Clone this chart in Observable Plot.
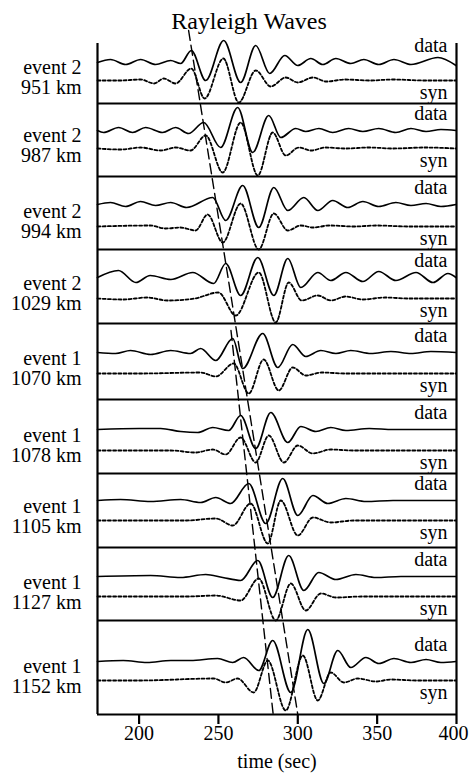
<!DOCTYPE html>
<html><head><meta charset="utf-8">
<script src="https://cdn.jsdelivr.net/npm/d3@7"></script>
<script src="https://cdn.jsdelivr.net/npm/@observablehq/plot@0.6"></script>
<style>
body{margin:0;background:#fff}
svg, svg text, svg g { font-family: "Liberation Serif", "Times New Roman", "DejaVu Serif", serif !important; }
</style>
</head><body><div id="chart"></div>
<script>
const title = "Rayleigh Waves";
const xLabel = "time (sec)";
const events = ["event 2","event 2","event 2","event 2","event 1","event 1","event 1","event 1","event 1"];
const distances = [951, 987, 994, 1029, 1070, 1078, 1105, 1127, 1152];
const xTicks = [200, 250, 300, 350, 400];

// [time (s), amplitude] picks, one list per trace
const dataTraces = [
 [[173.8,0],[182,3],[191.5,-2],[201,3],[210.4,-2],[219.9,2],[226.2,-1],[232.9,12],[242,-18],[253.3,22],[264,-20],[273.5,17],[282.3,-11],[291.8,7],[300,-3],[308.2,4],[315.8,-2],[324,4],[333.4,-1],[341.6,3],[351,-2],[360.6,3],[371.3,-2],[388.3,5],[399.7,-3]],
 [[173.8,0],[177.6,-2],[187.1,3],[195.9,-2],[204.1,3],[214.8,-2],[223,3],[231.2,-3],[240.7,8],[251.4,-17],[262.1,23],[271.6,-22],[281.7,15],[289.3,-7],[298.7,2],[305,-1],[313.3,2],[322,-2],[332,2],[341,-1],[351,2],[361.8,-2],[371.3,2],[380.8,-1],[390.2,1],[399.7,0]],
 [[173.8,0],[182,2],[191.5,-2],[200.9,3],[210.4,-1],[219.9,2],[230,-3],[246.4,7],[254.6,-16],[265.3,19],[275.4,-23],[284.9,17],[293.7,-6],[303.8,7],[312.6,-6],[322,4],[331.5,-3],[341,3],[351,-2],[361.8,2],[371.3,-1],[380.8,1],[390.2,-2],[399.7,0]],
 [[173.8,0],[187,7],[198,-5],[207,2],[220,-2],[233.8,5],[247,-6],[254.6,14],[264,-18],[274.8,20],[284.9,-18],[293.7,19],[301.9,-10],[312.6,5],[320.8,-3],[330.3,5],[341,-4],[351,6],[361.8,-3],[374.5,5],[385.2,-5],[394.6,4],[399.7,0]],
 [[173.8,0],[185.2,-1],[194.6,2],[207.3,-2],[219.9,2],[232.4,-1],[238.8,4],[248.3,-8],[259,14],[265.3,-16],[277.9,19],[287.4,-15],[296.8,8],[305,-4],[314.5,2],[324,-1],[333.4,2],[346.1,-1],[358.7,1],[371.3,-1],[383.9,1],[399.7,0]],
 [[173.8,0],[200,1],[213.6,1],[226.2,-2],[236.9,-3],[246.4,2],[256.5,-1],[264,14],[273.5,-19],[283,17],[293.7,-13],[301.9,3],[311.4,-2],[320.8,2],[330.3,-1],[345,1],[360,0],[399.7,0]],
 [[173.8,0],[188.3,1],[207.3,-1],[226.2,1],[238.8,-2],[248.3,3],[257.7,-3],[269.1,17],[279.8,-23],[290.5,22],[300,-15],[309.5,5],[318.9,-3],[330.3,2],[342.9,-1],[360,0],[399.7,0]],
 [[173.8,0],[207.3,1],[226.2,-1],[242,2],[252.7,-1],[264,-4],[274.8,16],[284.2,-21],[294.3,21],[303.8,-14],[313.2,4],[324,-3],[336.6,2],[349.2,-1],[365,0],[399.7,0]],
 [[173.8,0],[190,1],[205,-1],[220,1],[232.4,1],[249.5,3],[259,-1],[265.9,4],[275.4,-9],[284.2,21],[295.6,-31],[306.3,32],[316.4,-22],[325.2,11],[333.4,-6],[342.9,4],[351.1,-2],[360.6,3],[371.3,-1],[380.8,2],[390.2,-1],[399.7,0]]
];
const synTraces = [
 [[173.8,0],[188,0],[200.9,1],[209.5,-3],[215.5,2],[223,-3],[232.9,12],[241.3,-18],[253.1,22],[262.8,-22],[273.5,10],[283,-6],[292.4,3],[300,-2],[309.5,3],[318,-1],[330,1],[345,0],[360,1],[380,0],[399.7,0]],
 [[173.8,0],[188.3,-1],[200.9,1],[213.6,-2],[223,1],[232.4,-2],[242,13],[252.7,-24],[264,26],[274.8,-27],[284.2,16],[292.4,-7],[300.6,1],[308.2,-2],[317.7,1],[330,0],[345,1],[360,0],[380,1],[399.7,0]],
 [[173.8,0],[207,1],[216.7,-2],[226,-1],[235.6,-4],[243.2,12],[252.7,-16],[264,23],[275.4,-23],[284.9,13],[293.7,-4],[301.9,1],[309.5,-1],[320,1],[335,0],[350,1],[370,0],[399.7,0]],
 [[173.8,0],[190,-1],[205,1],[218,-2],[235,0],[250,6],[260.9,-17],[275.4,26],[286.1,-24],[294.3,16],[302.5,-2],[312.6,3],[320.8,-2],[330.3,2],[341,-1],[355,1],[370,0],[399.7,0]],
 [[173.8,0],[200,0],[238.8,1],[248.3,-3],[259.6,10],[269.1,-20],[278.5,14],[288,-17],[296.8,6],[305,-2],[315,1],[330,0],[399.7,0]],
 [[173.8,0],[220,0],[235.6,-2],[246.4,1],[254.6,-4],[264,13],[273.5,-12],[281.7,15],[291.2,-12],[300,5],[309.5,-3],[320.8,1],[335,0],[399.7,0]],
 [[173.8,0],[230,0],[248.3,2],[259,-5],[270.3,17],[281.1,-23],[289.3,20],[300,-15],[309.5,3],[320.8,-2],[335,0],[399.7,0]],
 [[173.8,0],[230,0],[248.3,1],[264,-4],[275.4,18],[286.1,-24],[295.6,13],[305,-14],[314.5,3],[324,-1],[340,0],[399.7,0]],
 [[173.8,0],[200,0],[247,2],[254.6,-2],[262.1,2],[272.2,-12],[281.1,20],[292.4,-30],[303.2,25],[312.6,-20],[320.8,8],[329,-2],[337.9,2],[349.2,-1],[358.7,1],[375,0],[399.7,0]]
];
// dashed moveout lines: time where each line starts and ends
const phaseStart = [231.2, 257.9];
const phaseEnd = [300.0, 284.5];

// ---- layout (vertical track positions, px units of the y scale) ----
const L = {
  top: 43, bottom: 714,
  panelBottoms: [103,176,249,323,399,473,547,620,714],
  dataBase: [62,130,204,277,352,429,500,576,661],
  synBase: [80,148,226,298,373,450,520,596,680],
  phaseTop: [30, 330]
};
const xDomain = [173.8, 400];

const rows = (traces, base, kind) => traces.flatMap((tr, i) =>
  tr.map(([t, a]) => ({t, y: base[i] - a, panel: i, kind})));
const dataRows = rows(dataTraces, L.dataBase, "data");
const synRows = rows(synTraces, L.synBase, "syn");
const phaseRows = phaseStart.flatMap((t0, k) => [
  {t: t0, y: L.phaseTop[k], k}, {t: phaseEnd[k], y: L.bottom, k}]);

const panels = distances.map((d, i) => ({
  i, label: `${events[i]}\n${d} km`,
  mid: (L.dataBase[i] + L.synBase[i]) / 2 + 6,
  dataY: L.dataBase[i] - 17, synY: L.synBase[i] + 12
}));

const font = "Liberation Serif, DejaVu Serif, serif";
const last = xTicks[xTicks.length - 1];
const chart = Plot.plot({
  width: 469, height: 773,
  marginLeft: 97, marginRight: 13, marginTop: 43, marginBottom: 59,
  style: {fontFamily: font, fontSize: "20px", background: "white", color: "black", overflow: "visible"},
  x: {domain: xDomain},
  y: {domain: [L.top, L.bottom], range: [L.top, L.bottom], axis: null},
  marks: [
    Plot.line(phaseRows, {x: "t", y: "y", z: "k", stroke: "black", strokeWidth: 1.4, strokeDasharray: "10,5"}),
    Plot.line(synRows, {x: "t", y: "y", z: "panel", curve: "monotone-x", stroke: "black", strokeWidth: 1.8, strokeDasharray: "3,2.2"}),
    Plot.line(dataRows, {x: "t", y: "y", z: "panel", curve: "monotone-x", stroke: "black", strokeWidth: 1.7}),
    Plot.ruleY(L.panelBottoms, {stroke: "black", strokeWidth: 2}),
    Plot.ruleX(xDomain, {y1: L.top, y2: L.bottom, stroke: "black", strokeWidth: 2.2}),
    Plot.axisX({ticks: xTicks, tickSize: 10, strokeWidth: 2.2, tickFormat: () => "", label: null}),
    Plot.text(xTicks.filter(d => d !== last), {x: d => d, frameAnchor: "bottom", dy: 19, lineAnchor: "middle", fontSize: 20, fontFamily: font}),
    Plot.text([last], {x: d => d, frameAnchor: "bottom", dy: 19, dx: -3, lineAnchor: "middle", fontSize: 20, fontFamily: font}),
    Plot.text([xLabel], {frameAnchor: "bottom", dy: 47, lineAnchor: "middle", fontSize: 20, fontFamily: font}),
    Plot.text([title], {frameAnchor: "top", dx: -28, dy: -22, lineAnchor: "middle", fontSize: 24, fontFamily: font}),
    Plot.text(panels, {x: xDomain[0], y: "mid", text: "label", textAnchor: "end", dx: -16, lineHeight: 1.0, fontSize: 20, fontFamily: font}),
    Plot.text(panels, {x: xDomain[1], y: "dataY", text: () => "data", textAnchor: "end", dx: -9, fontSize: 20, fontFamily: font}),
    Plot.text(panels, {x: xDomain[1], y: "synY", text: () => "syn", textAnchor: "end", dx: -9, fontSize: 20, fontFamily: font})
  ]
});
document.getElementById("chart").append(chart);
</script>
</body></html>
